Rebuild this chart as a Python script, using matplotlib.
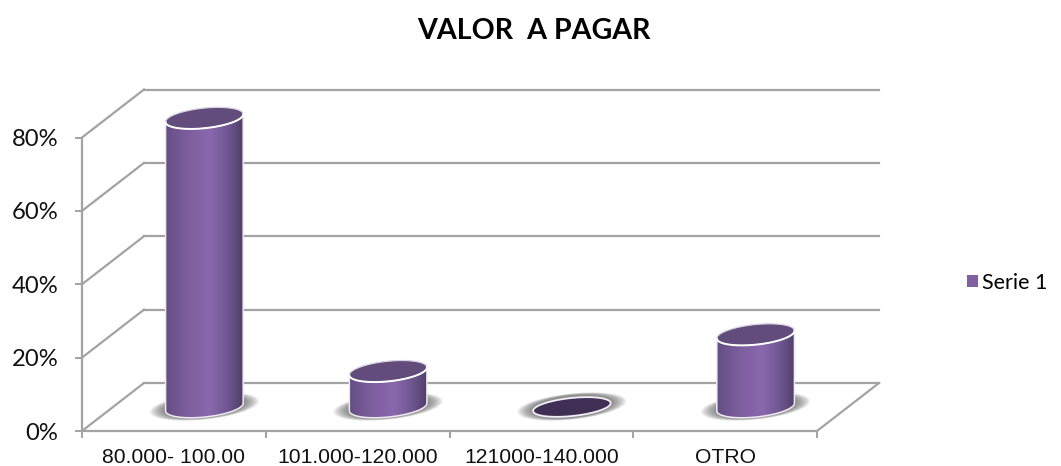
import numpy as np
import matplotlib
matplotlib.use('Agg')
import matplotlib.pyplot as plt
from matplotlib.colors import LinearSegmentedColormap
from matplotlib.patches import Patch, Polygon
from matplotlib.transforms import Affine2D, IdentityTransform

# data
categorias = ['80.000- 100.00', '101.000-120.000', '121000-140.000', 'OTRO']
valores = [79, 10, 0, 20]
serie = 'Serie 1'
yticks = [0, 20, 40, 60, 80]
ylabels = ['0%', '20%', '40%', '60%', '80%']

GRIS = '#a3a3a3'
W, H = 1061, 466

fig = plt.figure(figsize=(W / 100, H / 100), dpi=100)
ax = fig.add_axes([82 / W, (H - 431) / H, 735 / W, 293.5 / H])
ax.set_xlim(-0.5, 3.5)
ax.set_ylim(0, 80)

# ejes
for s in ['top', 'right']:
    ax.spines[s].set_visible(False)
for s in ['left', 'bottom']:
    ax.spines[s].set_color(GRIS)
    ax.spines[s].set_linewidth(1.6)
ax.set_yticks(yticks)
ax.set_yticklabels(ylabels, fontfamily='Lato', fontsize=17.2, color='#111111')
ax.tick_params(axis='y', length=5, width=1.4, color=GRIS, pad=12)
ax.set_xticks(range(4))
ax.set_xticklabels(categorias, fontfamily='Liberation Sans', fontsize=15.2, color='#111111')
ax.set_xticks(np.arange(5) - 0.5, minor=True)
ax.tick_params(axis='x', which='major', length=0, pad=12)
ax.tick_params(axis='x', which='minor', length=5, width=1.4, color=GRIS)

# pared del fondo (desplazada en pixeles)
fondo = ax.transData + Affine2D().translate(62, 48)
for v in yticks:
    ax.plot([-0.5, 3.5], [v, v], color=GRIS, lw=1.6, transform=fondo, clip_on=False, zorder=1)
    a = ax.transData.transform((-0.5, v))
    ax.plot([a[0], a[0] + 62], [a[1], a[1] + 48], color=GRIS, lw=1.6,
            transform=IdentityTransform(), clip_on=False, zorder=1)
a = ax.transData.transform((3.5, 0))
ax.plot([a[0], a[0] + 62], [a[1], a[1] + 48], color=GRIS, lw=1.6,
        transform=IdentityTransform(), clip_on=False, zorder=1)


def elipse(cx, cy, a, b, t0=0.0, t1=2 * np.pi, n=80):
    # elipse inclinada, en pixeles de pantalla
    t = np.linspace(t0, t1, n)
    ang = np.radians(6)
    x = a * np.cos(t)
    y = b * np.sin(t)
    return np.column_stack([cx + x * np.cos(ang) - y * np.sin(ang),
                            cy + x * np.sin(ang) + y * np.cos(ang)])


degradado = LinearSegmentedColormap.from_list('cil', [
    (0.0, '#654d82'), (0.25, '#7a5c9b'), (0.58, '#8a68ad'),
    (0.82, '#6f5590'), (1.0, '#4f3f66')])
id_t = IdentityTransform()
A, B = 39, 10.0

for i, v in enumerate(valores):
    base = ax.transData.transform((i, 0)) + np.array([30.5, 24])
    tope = ax.transData.transform((i, v)) + np.array([30.5, 23])
    cx, y0, y1 = base[0], base[1], tope[1]

    # sombra difusa
    for k in range(14):
        f = 1 - k / 14
        ax.add_patch(Polygon(elipse(cx, y0 + 0.5, A + 16 * f, B + 1 + 2 * f), closed=True,
                             fc='#555555', ec='none', alpha=0.07,
                             transform=id_t, clip_on=False, zorder=2))

    if v == 0:
        ax.add_patch(Polygon(elipse(cx, y0, A, B - 1), closed=True, fc='#3f2f55', ec='#f1eef4',
                             lw=1.3, transform=id_t, clip_on=False, zorder=4))
        continue

    # cuerpo del cilindro con degradado
    abajo = elipse(cx, y0, A, B, np.pi, 2 * np.pi)
    arriba = elipse(cx, y1, A, B, 0, np.pi)
    cuerpo = Polygon(np.vstack([abajo, arriba]), closed=True, fc='none', ec='#eeeaf2',
                     lw=1.1, transform=id_t, clip_on=False, zorder=4)
    im = ax.imshow(np.linspace(0, 1, 256).reshape(1, -1), cmap=degradado, aspect='auto',
                   extent=[cx - A, cx + A, y0 - 15, y1 + 15], transform=id_t, zorder=3)
    ax.add_patch(cuerpo)
    im.set_clip_box(fig.bbox)
    im.set_clip_path(cuerpo)

    # tapa
    ax.add_patch(Polygon(elipse(cx, y1, A, B), closed=True, fc='#624c7c', ec='#d9d3e0',
                         lw=0.8, transform=id_t, clip_on=False, zorder=5))
    p = elipse(cx, y1, A, B, np.pi, 2 * np.pi)
    ax.plot(p[:, 0], p[:, 1], color='white', lw=1.4, transform=id_t, clip_on=False, zorder=6)

ax.set_xlim(-0.5, 3.5)
ax.set_ylim(0, 80)

# titulo y leyenda
fig.text(534 / W, (H - 31) / H, 'VALOR  A PAGAR', family='Lato', fontweight='bold',
         fontsize=20.6, ha='center', va='center', color='black')
fig.legend(handles=[Patch(fc='#7f60a1', ec='none', label=serie)], loc='center left',
           bbox_to_anchor=(967 / W, (H - 283) / H), frameon=False, prop={'family': 'Lato', 'size': 15.5},
           handlelength=0.5, handleheight=0.5, handletextpad=0.2, borderpad=0, borderaxespad=0)

plt.savefig('out.png', dpi=100)
